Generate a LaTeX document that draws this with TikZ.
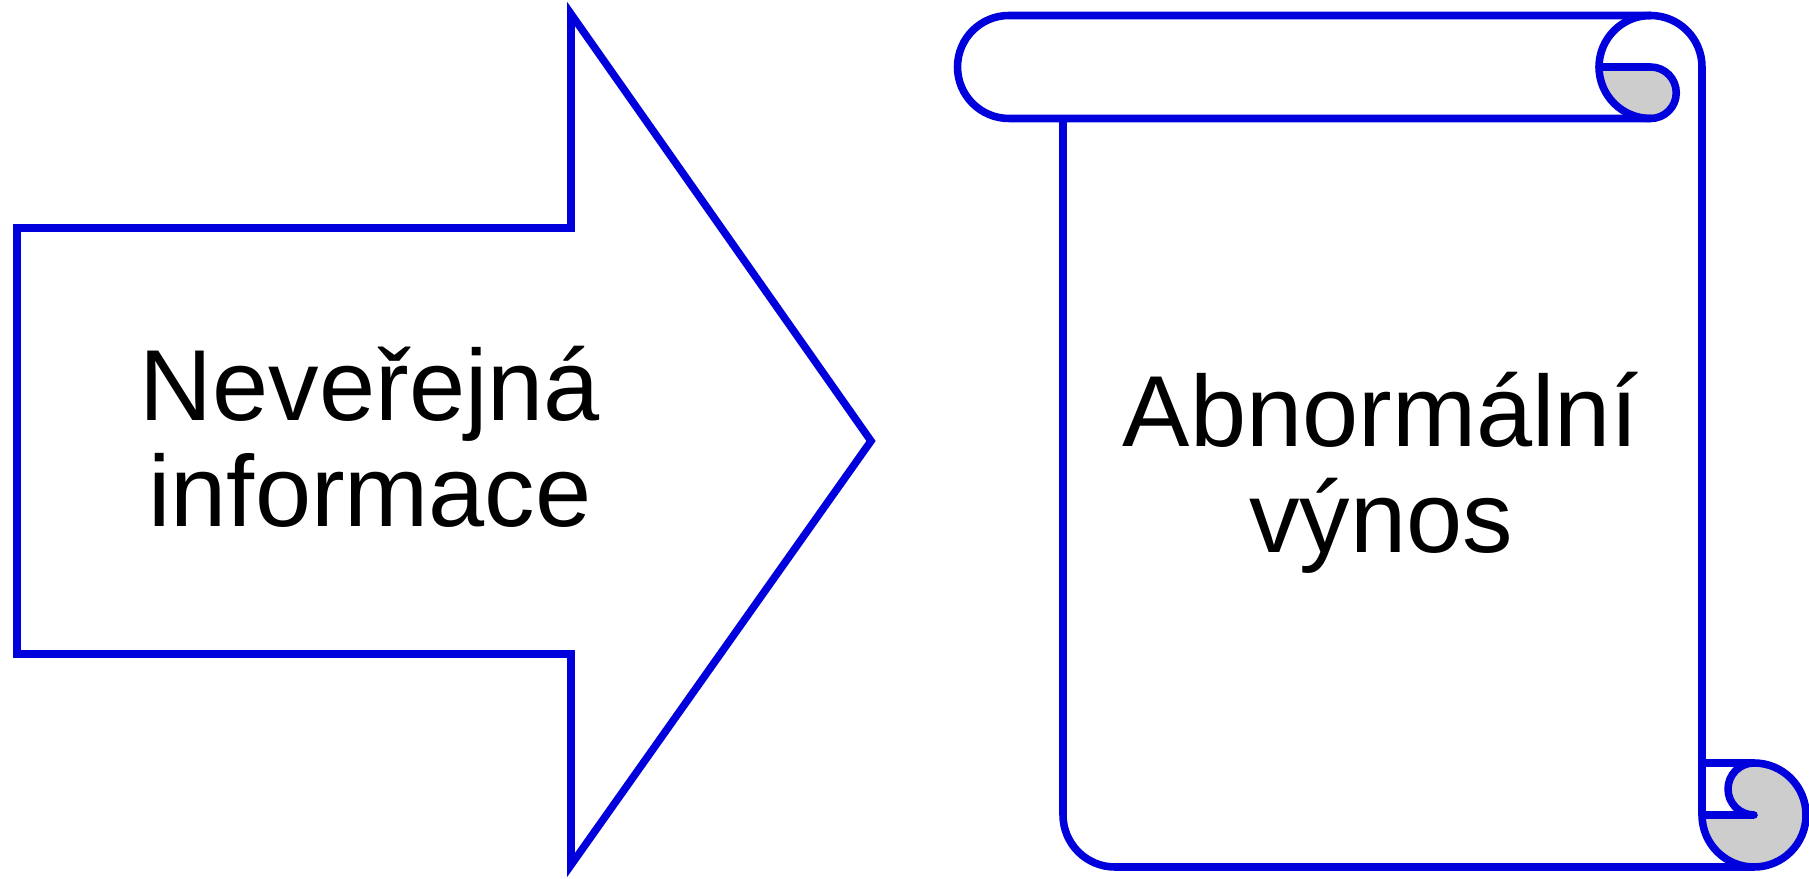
\documentclass[tikz,border=0pt]{standalone}
\usepackage{fontspec}
\setmainfont{Liberation Sans}
\usepackage{tikz}
\definecolor{scrollblue}{RGB}{0,0,220}
\definecolor{curlgray}{RGB}{205,205,205}

\begin{document}
\begin{tikzpicture}[x=0.01cm,y=0.01cm]
        \tikzstyle{edge}=[draw=scrollblue, line width=2.15pt]
        \tikzstyle{txt}=[align=center, inner sep=0pt, anchor=base,
                         font=\fontsize{28.7}{30.4}\selectfont]

        \useasboundingbox (0,0) rectangle (1809,879);

        \draw[edge, line join=miter] (17,651) -- (571,651) -- (571,865) -- (871,438)
                -- (571,14) -- (571,225) -- (17,225) -- cycle;

        \fill[curlgray] (1599,812) -- (1650.5,812) arc[start angle=90, end angle=-90, radius=25.75]
                arc[start angle=270, end angle=180, radius=51.5] -- cycle;
        \fill[curlgray] (1702,64) arc[start angle=180, end angle=450, radius=52]
                arc[start angle=90, end angle=270, radius=26] -- cycle;

        \draw[edge, line join=round, line cap=round]
                (1650.5,863.5) -- (1009,863.5) arc[start angle=90, end angle=270, radius=51.5] -- (1650.5,760.5);
        \draw[edge, line join=round]
                (1702,812) arc[start angle=0, end angle=270, radius=51.5];
        \draw[edge, line join=round, line cap=round]
                (1599,812) -- (1650.5,812) arc[start angle=90, end angle=-90, radius=25.75];
        \draw[edge, line join=round]
                (1702,812) -- (1702,64) arc[start angle=180, end angle=270, radius=52];
        \draw[edge, line join=round]
                (1063,760.5) -- (1063,64) arc[start angle=180, end angle=270, radius=52] -- (1754,12)
                arc[start angle=-90, end angle=90, radius=52] -- (1702,116);
        \draw[edge, line join=round, line cap=round]
                (1754,116) arc[start angle=90, end angle=270, radius=26] -- (1702,64);

        \node[txt] (info) at (370,352) {Neveřejná\\informace};
        \node[txt] (vynos) at (1381,326) {Abnormální\\výnos};
    \end{tikzpicture}
\end{document}
